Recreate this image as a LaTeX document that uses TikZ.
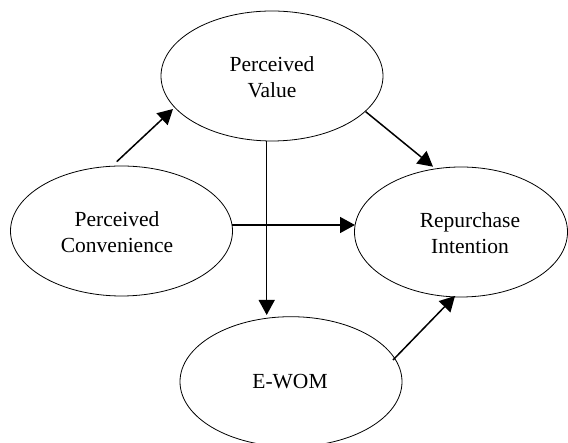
\documentclass[tikz,border=0pt]{standalone}
\usepackage{fontspec}
\setmainfont{Liberation Serif}
\usetikzlibrary{shapes.geometric,arrows.meta}
\tikzset{
  construct/.style={draw=black, line width=0.8pt, ellipse, inner sep=0pt, minimum width=222pt, minimum height=130pt},
  lbl/.style={align=center, inner sep=0pt, font=\fontsize{21.5}{25.5}\selectfont},
  path/.style={line width=1.5pt, -{Triangle[length=15pt,width=16pt]}}
}
\begin{document}
\begin{tikzpicture}[x=1pt,y=1pt]
\useasboundingbox (0,0) rectangle (568,443);
\clip (0,0) rectangle (568,443);
\node[construct] (pv) at (272,367) {};
\node[construct] (pc) at (121.5,212) {};
\node[construct, minimum width=213pt] (ri) at (461,211) {};
\node[construct] (ew) at (291,61.3) {};
\node[lbl] (pvt) at (272,366) {Perceived\\Value};
\node[lbl] (pct) at (117,211) {Perceived\\Convenience};
\node[lbl] (rit) at (470,210) {Repurchase\\Intention};
\node[lbl] (ewt) at (290,61) {E-WOM};
\coordinate (a1s) at (116.7,281.3);
\coordinate (a1e) at (173,334);
\coordinate (a2s) at (365.7,331.3);
\coordinate (a2e) at (433,276.3);
\coordinate (a3s) at (232,218);
\coordinate (a3e) at (355,218);
\coordinate (a4s) at (266.7,302.3);
\coordinate (a4e) at (266.7,128);
\coordinate (a5s) at (393,83);
\coordinate (a5e) at (455,147);
\draw[path] (a1s) -- (a1e);
\draw[path] (a2s) -- (a2e);
\draw[path] (a3s) -- (a3e);
\draw[path] (a4s) -- (a4e);
\draw[path] (a5s) -- (a5e);
\end{tikzpicture}
\end{document}
